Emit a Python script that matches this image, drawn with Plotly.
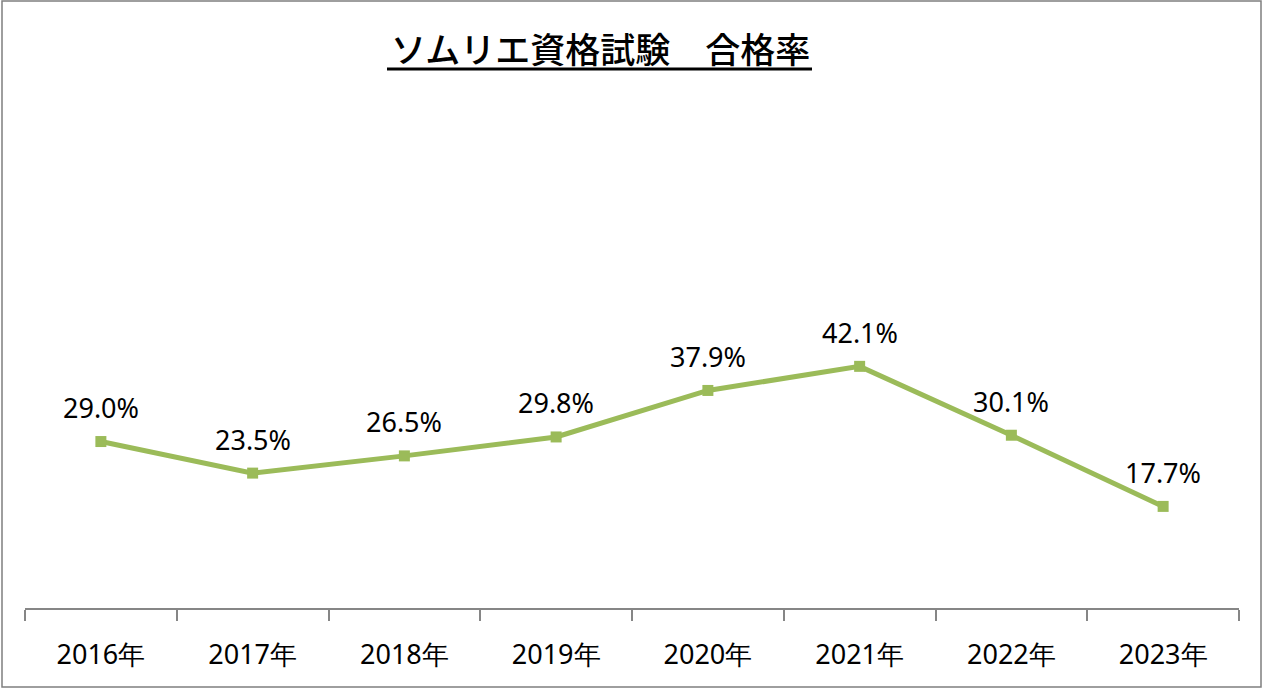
import plotly.graph_objects as go

years = ["2016年", "2017年", "2018年", "2019年", "2020年", "2021年", "2022年", "2023年"]
rates = [29.0, 23.5, 26.5, 29.8, 37.9, 42.1, 30.1, 17.7]
labels = [f"{v:.1f}%" for v in rates]
title_text = "ソムリエ資格試験　合格率"

W, H = 1264, 689
L, R, T, B = 25, 25, 321, 81
pw, ph = W - L - R, H - T - B

def px_x(x):
    return (x - L) / pw

def px_y(y):
    return (H - B - y) / ph

fig = go.Figure()
fig.add_trace(go.Scatter(
    x=years, y=rates, mode="lines+markers",
    line=dict(color="#9BBB59", width=5),
    marker=dict(symbol="square", size=11, color="#9BBB59"),
    hoverinfo="skip", cliponaxis=False,
))

annotations = [dict(
    x=yr, y=v, xref="x", yref="y", text=lab, showarrow=False,
    yshift=34, xanchor="center", yanchor="middle",
    font=dict(family="Noto Sans, sans-serif", size=27, color="#000000"),
) for yr, v, lab in zip(years, rates, labels)]

annotations.append(dict(
    text=title_text, xref="paper", yref="paper",
    x=px_x(600), y=px_y(47), xanchor="center", yanchor="middle",
    showarrow=False,
    font=dict(family="Noto Sans CJK JP", size=35, color="#000000", weight=500),
))

fig.update_layout(
    width=W, height=H,
    margin=dict(l=L, r=R, t=T, b=B, pad=0),
    paper_bgcolor="white", plot_bgcolor="white",
    showlegend=False,
    xaxis=dict(
        type="category", range=[-0.5, 7.5], tickson="boundaries",
        ticks="outside", ticklen=11, tickcolor="#868686", tickwidth=1.5,
        showline=True, linecolor="#868686", linewidth=1.5,
        showgrid=False, zeroline=False,
        tickfont=dict(family="Noto Sans, sans-serif", size=27, color="#000000"),
        ticklabelstandoff=22,
    ),
    yaxis=dict(range=[0, 50], visible=False, showgrid=False, zeroline=False),
    annotations=annotations,
    shapes=[
        dict(type="line", xref="paper", yref="paper",
             x0=px_x(387), x1=px_x(812), y0=px_y(69), y1=px_y(69),
             line=dict(color="#000000", width=3)),
        dict(type="rect", xref="paper", yref="paper",
             x0=px_x(2), x1=px_x(1261), y0=px_y(1), y1=px_y(687),
             line=dict(color="#7f7f7f", width=1.5)),
    ],
)

fig.write_html("out.html", config={"displayModeBar": False},
               post_script="document.body.style.margin='0';document.body.style.overflow='hidden';")
